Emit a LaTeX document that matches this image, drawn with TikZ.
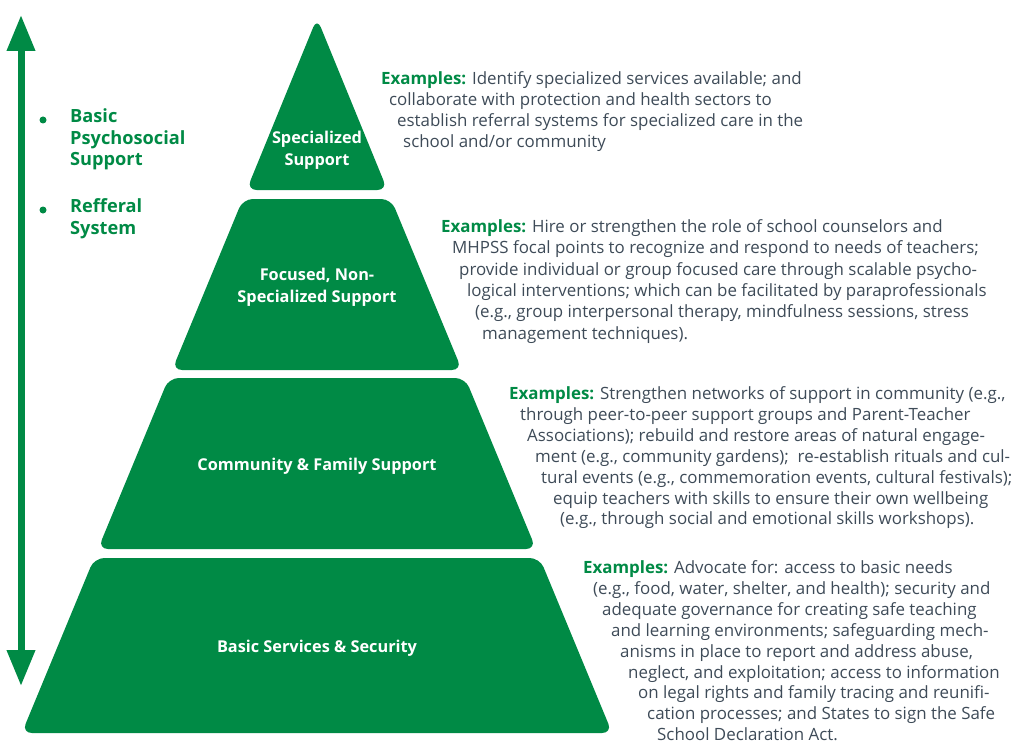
\documentclass[tikz,border=0pt]{standalone}
\usepackage{fontspec}
\setmainfont{Open Sans}
\usetikzlibrary{arrows.meta}

\definecolor{pgreen}{RGB}{0,138,69}
\definecolor{exgrey}{RGB}{62,75,88}
\newcommand\exhead{\textcolor{pgreen}{\bfseries Examples:}}

\begin{document}
\begin{tikzpicture}[
                    x=1pt, y=-1pt,
                    tier/.style={fill=pgreen, rounded corners=10pt},
                    tierlabel/.style={text=white, font=\fontsize{16.3}{22}\selectfont\bfseries, align=center},
                    exline/.style={anchor=mid west, inner sep=0pt, text=exgrey, font=\fontsize{16.9}{21}\selectfont},
                    sideline/.style={anchor=mid west, inner sep=0pt, text=pgreen, font=\fontsize{18.2}{22}\selectfont\bfseries},
                    dot/.style={circle, fill=pgreen, inner sep=0pt, minimum size=7pt}
                    ]
        \useasboundingbox (0,0) rectangle (1015,749);

        % double arrow on the left
        \coordinate (arrtop) at (21,15);
        \coordinate (arrbot) at (21,686);
        \draw[pgreen, line width=7pt, {Triangle[length=36pt,width=27pt]}-{Triangle[length=36pt,width=27pt]}] (arrbot) -- (arrtop);

        \node[dot] (dot1) at (43,120) {};
        \node[dot] (dot2) at (43,210) {};
        \foreach \x/\y/\t [count=\n] in {70/120/Basic, 70/141.5/Psychosocial, 70/163/Support, 70/210/Refferal, 70/231.5/System}
            {\node[sideline] (side\n) at (\x,\y) {\t};}

        % pyramid
        \fill[tier] (317,18) -- ({317+0.414*(190-20)},190) -- ({317-0.414*(190-20)},190) -- cycle;
        \foreach \top/\bot in {199/370, 378/549, 558/733}
            \fill[tier] ({317-0.414*(\top-20)},\top) -- ({317+0.414*(\top-20)},\top)
                        -- ({317+0.414*(\bot-20)},\bot) -- ({317-0.414*(\bot-20)},\bot) -- cycle;

        \node[tierlabel] (specialized) at (317,150) {Specialized\\Support};
        \node[tierlabel] (focused) at (317,287) {Focused, Non-\\Specialized Support};
        \node[tierlabel] (community) at (317,466) {Community \& Family Support};
        \node[tierlabel] (basic) at (317,648) {Basic Services \& Security};

        % examples
        \foreach \x/\y/\t [count=\n] in {
            381/82/{\exhead{} Identify specialized services available; and},
            389/103/{collaborate with protection and health sectors to},
            397/124/{establish referral systems for specialized care in the},
            403/145/{school and/or community}}
            {\node[exline] (specex\n) at (\x,\y) {\t};}

        \foreach \x/\y/\t [count=\n] in {
            441/230/{\exhead{} Hire or strengthen the role of school counselors and},
            452/251/{MHPSS focal points to recognize and respond to needs of teachers;},
            459/273/{provide individual or group focused care through scalable psycho-},
            467/294/{logical interventions; which can be facilitated by paraprofessionals},
            475/315/{(e.g., group interpersonal therapy, mindfulness sessions, stress},
            482/337/{management techniques).}}
            {\node[exline] (focex\n) at (\x,\y) {\t};}

        \foreach \x/\y/\t [count=\n] in {
            509/397/{\exhead{} Strengthen networks of support in community (e.g.,},
            520/418/{through peer-to-peer support groups and Parent-Teacher},
            527/439/{Associations); rebuild and restore areas of natural engage-},
            535/460/{ment (e.g., community gardens);~ re-establish rituals and cul-},
            541/481/{tural events (e.g., commemoration events, cultural festivals);},
            553/502/{equip teachers with skills to ensure their own wellbeing},
            560/522/{(e.g., through social and emotional skills workshops).}}
            {\node[exline] (comex\n) at (\x,\y) {\t};}

        \foreach \x/\y/\t [count=\n] in {
            583/571/{\exhead{} Advocate for: access to basic needs},
            593/592/{(e.g., food, water, shelter, and health); security and},
            602/613/{adequate governance for creating safe teaching},
            611/634/{and learning environments; safeguarding mech-},
            620/655/{anisms in place to report and address abuse,},
            628/676/{neglect, and exploitation; access to information},
            638/696/{on legal rights and family tracing and reunifi-},
            647/717/{cation processes; and States to sign the Safe},
            657/738/{School Declaration Act.}}
            {\node[exline] (basex\n) at (\x,\y) {\t};}
\end{tikzpicture}
\end{document}
